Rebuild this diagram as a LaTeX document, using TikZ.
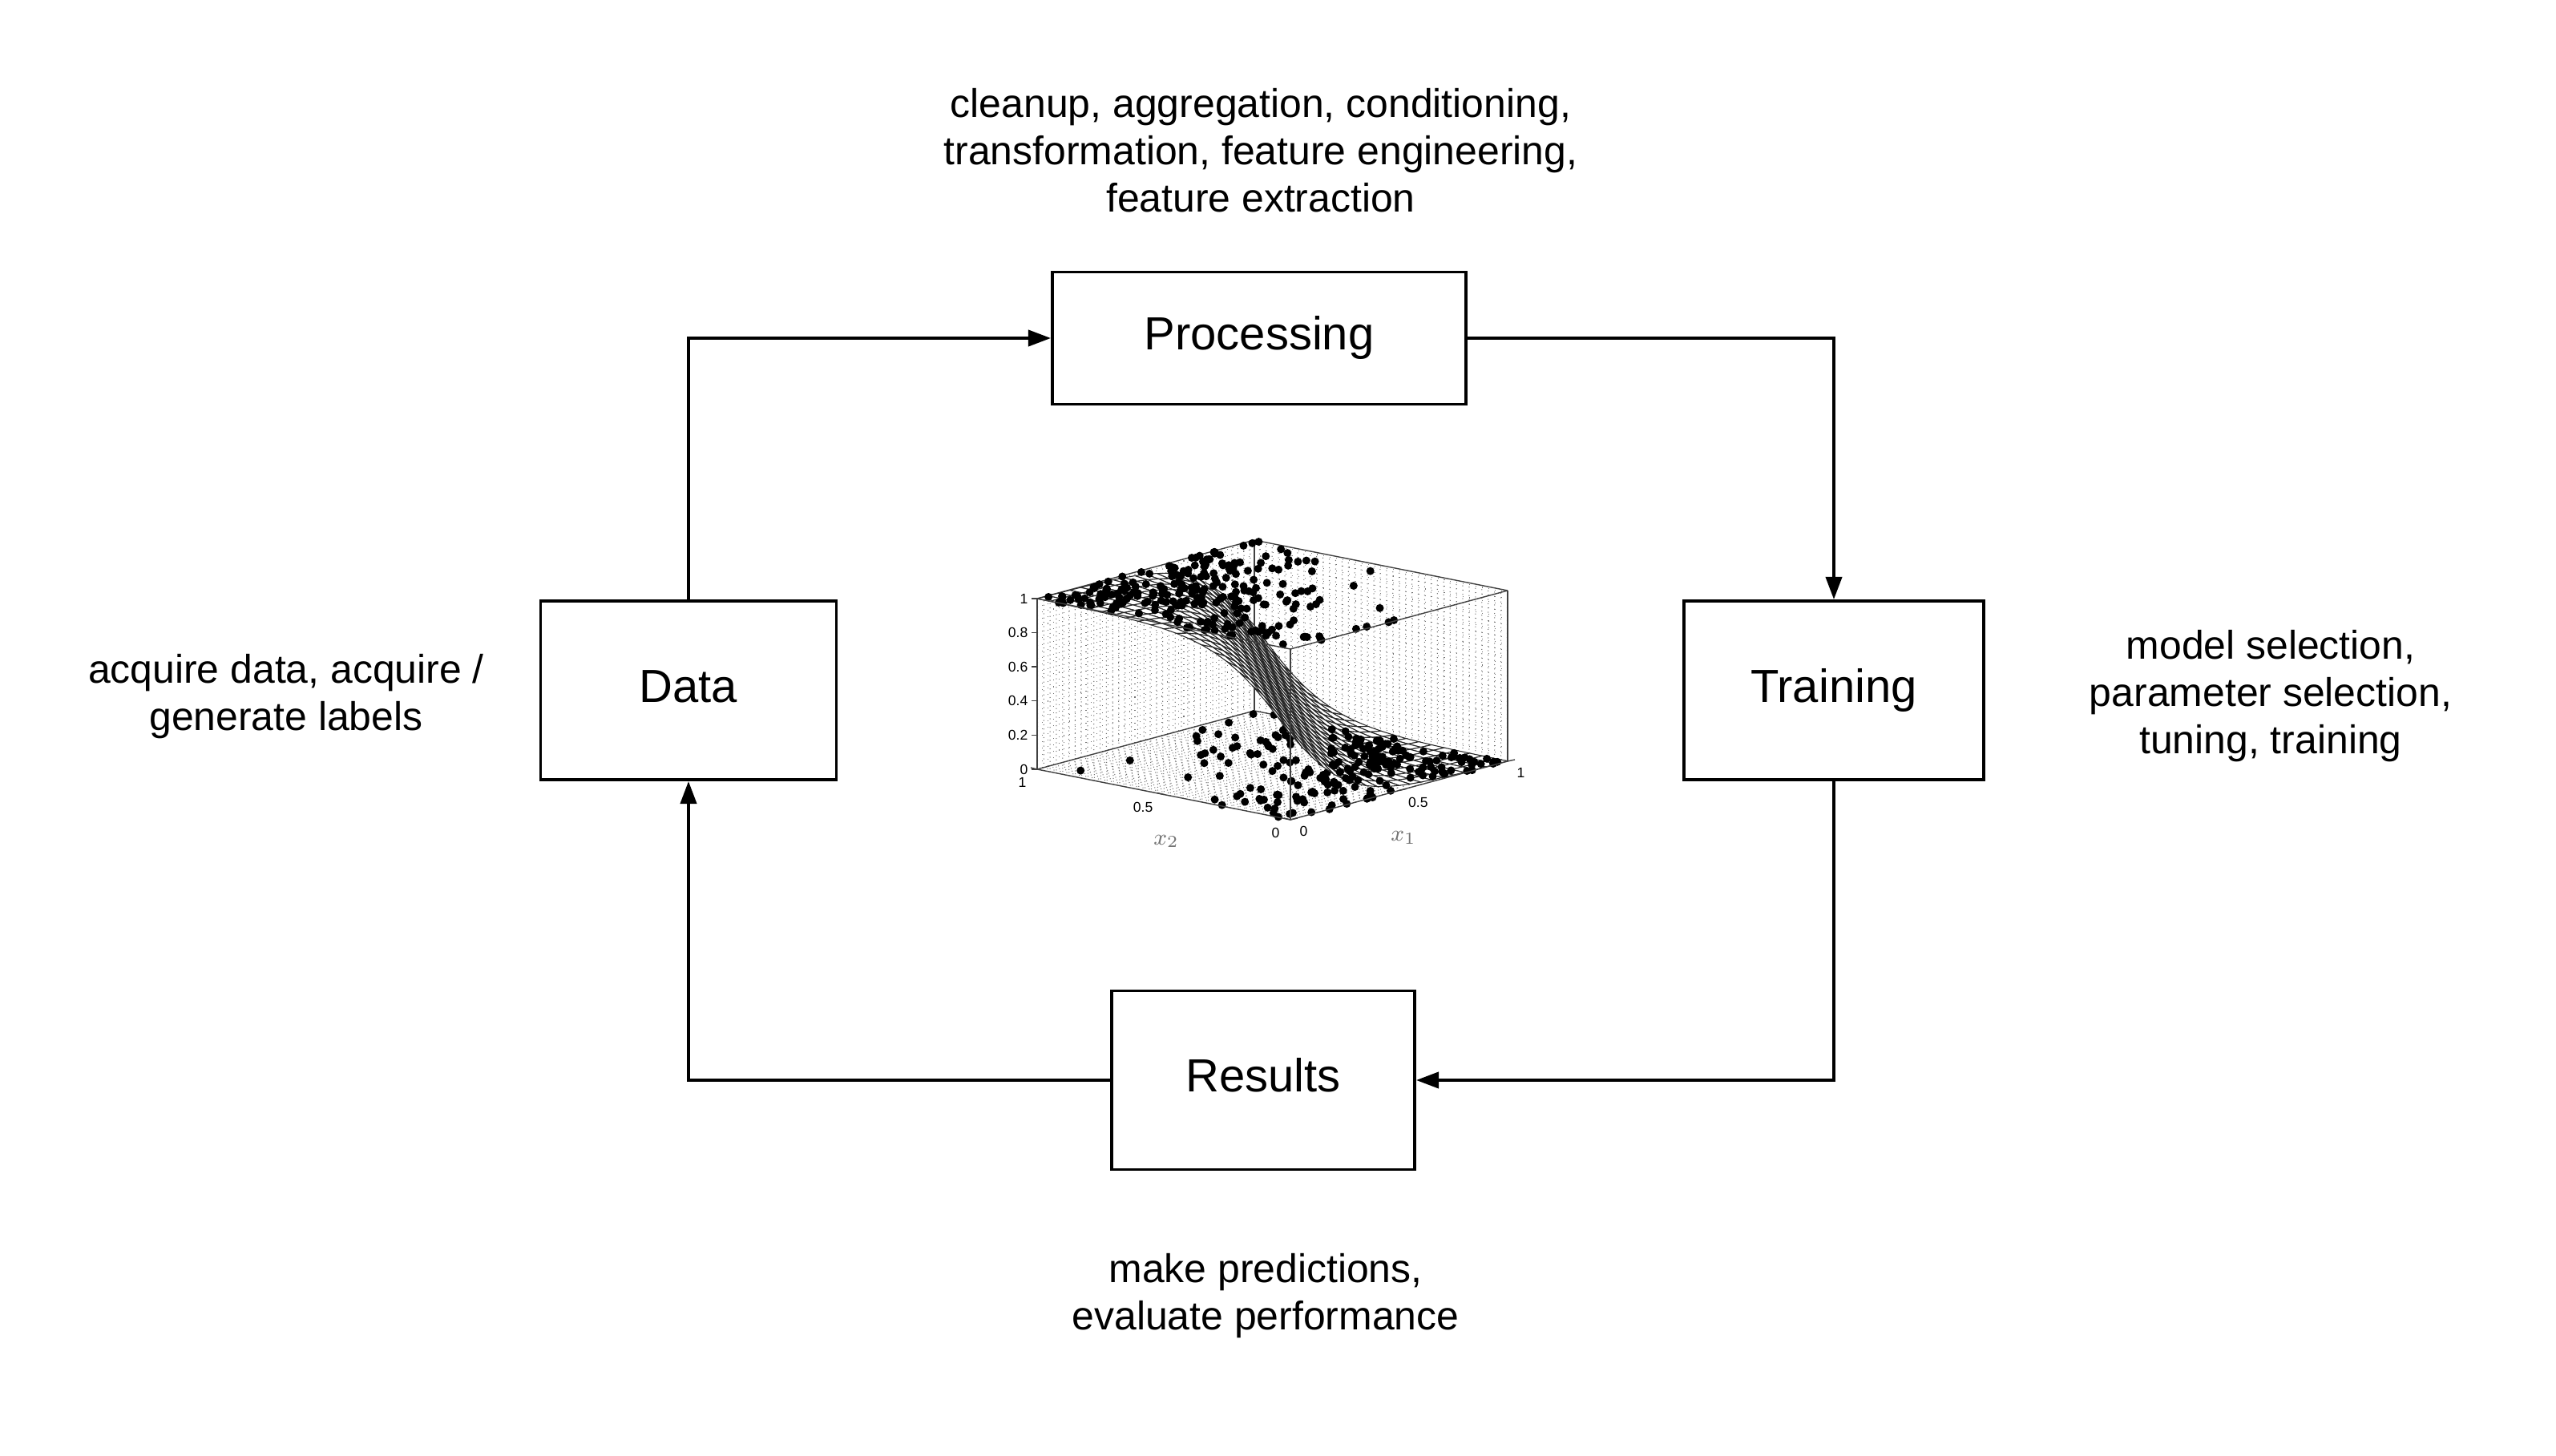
\documentclass[tikz,border=0pt]{standalone}
\usepackage{fontspec}
\setmainfont{Liberation Sans}
\usetikzlibrary{arrows.meta}

\tikzset{
	stage/.style={draw, line width=1.1pt, minimum height=2.23cm, inner sep=0pt, text height=11.5pt, text depth=3.1pt, font=\fontsize{16.5}{19}\selectfont},
	flow/.style={line width=1.1pt, -{Triangle[length=8pt,width=5.7pt]}},
	note/.style={align=center, inner sep=0pt, font=\fontsize{14.2}{16.8}\selectfont},
	griddots/.style={dotted, black!55, line width=0.3pt},
	boxline/.style={black!75, line width=0.4pt},
	meshpatch/.style={fill=white, draw=black!85, line width=0.3pt},
	ticklab/.style={inner sep=0pt, font=\fontsize{5}{6}\selectfont},
	axislab/.style={inner sep=0pt, text=black!55, font=\fontsize{8}{9}\selectfont},
	datapt/.style={fill=black}
}

\begin{document}
\begin{tikzpicture}[declare function={sg(\a,\b)=1/(1+exp(-7*max(-1,min(1,\b-\a))));}]
	\useasboundingbox (0,0) rectangle (31.89,-18.17);

	\node[stage, minimum width=5.16cm, minimum height=1.65cm] (proc) at (15.71,-4.22) {Processing};
	\node[stage, minimum width=3.69cm] (data) at (8.59,-8.615) {Data};
	\node[stage, minimum width=3.74cm] (train) at (22.88,-8.615) {Training};
	\node[stage, minimum width=3.78cm] (res) at (15.76,-13.48) {Results};

	\node[note] (procnote) at (15.73,-1.88) {cleanup, aggregation, conditioning,\\transformation, feature engineering,\\feature extraction};
	\node[note] (datanote) at (3.57,-8.69) {acquire data, acquire /\\generate labels};
	\node[note] (trainnote) at (28.33,-8.69) {model selection,\\parameter selection,\\tuning, training};
	\node[note] (resnote) at (15.79,-16.17) {make predictions,\\evaluate performance};

	\draw[flow] (data.north) |- (proc.west);
	\draw[flow] (proc.east) -| (train.north);
	\draw[flow] (train.south) |- (res.east);
	\draw[flow] (res.west) -| (data.south);

	\coordinate (plotorigin) at (16.10,-10.23);
	\begin{scope}[shift={(plotorigin)}, x={(2.71cm,0.73cm)}, y={(-3.16cm,0.63cm)}, z={(0cm,2.13cm)}]
		\foreach \t in {0.025,0.05,...,0.98} {
			\draw[griddots] (\t,1,0) -- (\t,1,1);
			\draw[griddots] (0,1,\t) -- (1,1,\t);
			\draw[griddots] (1,\t,0) -- (1,\t,1);
			\draw[griddots] (1,0,\t) -- (1,1,\t);
			\draw[griddots] (\t,0,0) -- (\t,1,0);
			\draw[griddots] (0,\t,0) -- (1,\t,0);
		}
		\draw[boxline] (0,1,0) -- (1,1,0) -- (1,0,0);
		\draw[boxline] (0,1,1) -- (1,1,1) -- (1,0,1);
		\draw[boxline] (0,1,0) -- (0,1,1);
		\draw[boxline] (1,1,0) -- (1,1,1);
		\draw[boxline] (1,0,0) -- (1,0,1);

		\pgfmathsetseed{4711}
		\foreach \k in {1,...,480} {
			\pgfmathsetmacro{\pa}{rnd}
			\pgfmathsetmacro{\pb}{rnd}
			\pgfmathtruncatemacro{\lab}{rnd < 1/(1+exp(-7*(\pb-\pa)))}
			\pgfmathtruncatemacro{\under}{sg(\pa,\pb) > 0.15}
			\ifnum\lab=0 \ifnum\under=1 \fill[datapt] (\pa,\pb,0) circle[radius=0.05cm]; \fi\fi
		}

		\foreach \i in {19,...,0} {
			\foreach \j in {19,...,0} {
				\pgfmathsetmacro{\ua}{\i/20}
				\pgfmathsetmacro{\ub}{(\i+1)/20}
				\pgfmathsetmacro{\va}{\j/20}
				\pgfmathsetmacro{\vb}{(\j+1)/20}
				\filldraw[meshpatch] (\ua,\va,{sg(\ua,\va)}) -- (\ub,\va,{sg(\ub,\va)}) -- (\ub,\vb,{sg(\ub,\vb)}) -- (\ua,\vb,{sg(\ua,\vb)}) -- cycle;
			}
		}

		\pgfmathsetseed{4711}
		\foreach \k in {1,...,480} {
			\pgfmathsetmacro{\pa}{rnd}
			\pgfmathsetmacro{\pb}{rnd}
			\pgfmathtruncatemacro{\lab}{rnd < 1/(1+exp(-7*(\pb-\pa)))}
			\pgfmathtruncatemacro{\under}{sg(\pa,\pb) > 0.15}
			\ifnum\lab=1 \fill[datapt] (\pa,\pb,1) circle[radius=0.05cm]; \fi
			\ifnum\lab=0 \ifnum\under=0 \fill[datapt] (\pa,\pb,0) circle[radius=0.05cm]; \fi\fi
		}

		\draw[boxline] (0,0,0) -- (0,0,1);
		\draw[boxline] (0,1,1) -- (0,0,1) -- (1,0,1);
		\draw[boxline] (0,1,0) -- (0,0,0) -- (1,0,0);

		\foreach \z [count=\n] in {0,0.2,0.4,0.6,0.8,1} {
			\draw[boxline] (0,1,\z) -- ++(-0.07cm,0cm);
			\node[ticklab, anchor=east] (zlab\n) at ([xshift=-0.11cm]0,1,\z) {\z};
		}
		\foreach \v [count=\n] in {0,0.5,1} {
			\draw[boxline] (0,\v,0) -- ++(-0.08cm,0.02cm);
			\node[ticklab, anchor=north east] (xtwotick\n) at ([shift={(-0.13cm,-0.095cm)}]0,\v,0) {\v};
			\draw[boxline] (\v,0,0) -- ++(0.09cm,0.02cm);
			\node[ticklab, anchor=north west] (xonetick\n) at ([shift={(0.11cm,-0.08cm)}]\v,0,0) {\v};
		}
		\node[axislab] (xtwolab) at ([shift={(0.03cm,-0.585cm)}]0,0.5,0) {$x_2$};
		\node[axislab] (xonelab) at ([shift={(0.055cm,-0.585cm)}]0.5,0,0) {$x_1$};
	\end{scope}
\end{tikzpicture}
\end{document}
